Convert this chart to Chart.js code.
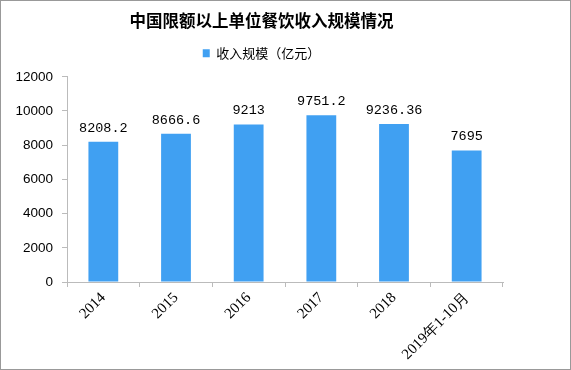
<!DOCTYPE html>
<html>
<head>
<meta charset="utf-8">
<script src="https://cdn.jsdelivr.net/npm/chart.js@4/dist/chart.umd.min.js"></script>
<style>
  body { margin: 0; background: #fff; }
  #wrap { position: relative; width: 571px; height: 370px; }
  #frame { position: absolute; left: 0; top: 0; width: 571px; height: 370px; box-sizing: border-box; border: 1px solid #999; pointer-events: none; }
</style>
</head>
<body>
<div id="wrap">
  <canvas id="chart" width="571" height="370"></canvas>
  <div id="frame"></div>
</div>
<script>
// chart data
const categories = ['2014', '2015', '2016', '2017', '2018', '2019年1-10月'];
const revenue = [8208.2, 8666.6, 9213, 9751.2, 9236.36, 7695];
const valueLabels = ['8208.2', '8666.6', '9213', '9751.2', '9236.36', '7695'];

// draws the numbers above each bar
const barLabels = {
    id: 'barLabels',
    afterDatasetsDraw(chart) {
        const ctx = chart.ctx;
        const meta = chart.getDatasetMeta(0);
        ctx.save();
        ctx.font = '13.5px "Liberation Mono", monospace';
        ctx.fillStyle = '#000';
        ctx.textAlign = 'center';
        ctx.textBaseline = 'alphabetic';
        meta.data.forEach((bar, i) => {
            ctx.fillText(valueLabels[i], bar.x, bar.y - 10);
        });
        ctx.restore();
    }
};

const ctx = document.getElementById('chart').getContext('2d');
const revenueChart = new Chart(ctx, {
    type: 'bar',
    data: {
        labels: categories,
        datasets: [{
            label: '收入规模（亿元）',
            data: revenue,
            backgroundColor: '#40A0F2',
            categoryPercentage: 1,
            barPercentage: 0.41
        }]
    },
    options: {
        responsive: false,
        animation: false,
        layout: { padding: { left: 0, right: 48, top: 0, bottom: 0 } },
        plugins: {
            title: {
                display: true,
                text: '中国限额以上单位餐饮收入规模情况',
                color: '#000',
                font: { family: '"Noto Sans CJK SC", sans-serif', size: 16.5, weight: 'bold' },
                padding: { top: 11, bottom: 6 }
            },
            legend: {
                display: true,
                labels: {
                    color: '#000',
                    font: { family: '"Noto Sans CJK SC", sans-serif', size: 13 },
                    boxWidth: 7,
                    boxHeight: 8,
                    padding: 10
                }
            },
            tooltip: { enabled: false }
        },
        scales: {
            x: {
                grid: { drawOnChartArea: false, drawTicks: true, tickLength: 5, color: '#bbb', offset: true },
                border: { color: '#bbb' },
                ticks: {
                    color: '#000',
                    font: { family: '"Liberation Serif", serif', size: 15 },
                    minRotation: 45,
                    maxRotation: 45,
                    padding: 2
                },
                afterFit: s => { s.height = 88; }
            },
            topSpacer: {
                axis: 'x',
                position: 'top',
                display: true,
                grid: { display: false },
                border: { display: false },
                ticks: { display: false },
                afterFit: s => { s.height = 7; }
            },
            y: {
                min: 0,
                max: 12000,
                grid: { drawOnChartArea: false, drawTicks: true, tickLength: 5, color: '#bbb' },
                border: { color: '#bbb' },
                ticks: {
                    stepSize: 2000,
                    color: '#000',
                    font: { family: '"Liberation Sans", sans-serif', size: 13.5 },
                    padding: 9,
                    callback: v => String(v)
                },
                afterFit: s => { s.width = 67; }
            },
            spacer: {
                position: 'right',
                display: true,
                grid: { display: false },
                border: { display: false },
                ticks: { display: false },
                afterFit: s => { s.width = 20; }
            }
        }
    },
    plugins: [barLabels]
});
</script>
</body>
</html>
